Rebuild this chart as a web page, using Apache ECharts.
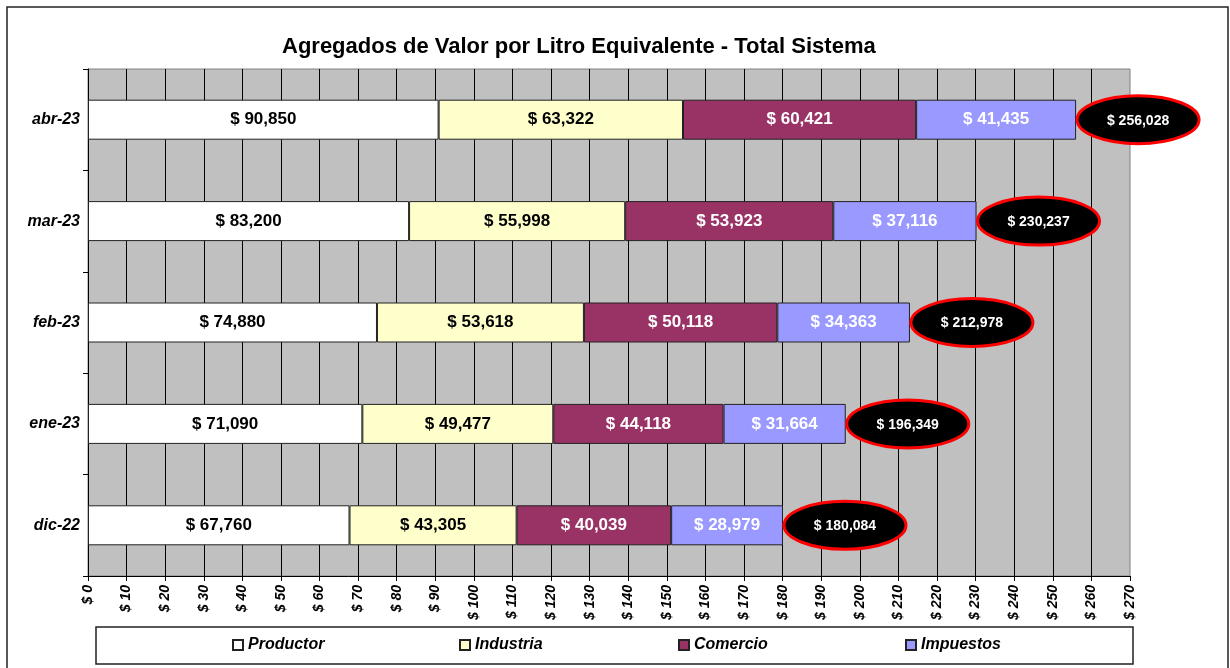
<!DOCTYPE html>
<html>
<head>
<meta charset="UTF-8">
<title>Agregados de Valor</title>
<script src="https://cdn.jsdelivr.net/npm/echarts@6/dist/echarts.min.js"></script>
<style>
  html, body { margin: 0; padding: 0; background: #fff; }
  #main { width: 1230px; height: 668px; }
</style>
</head>
<body>
<div id="main"></div>
<script type="text/javascript">
  // data, bottom to top as drawn
  var months = ['dic-22', 'ene-23', 'feb-23', 'mar-23', 'abr-23'];
  var productor = [67760, 71090, 74880, 83200, 90850];
  var industria = [43305, 49477, 53618, 55998, 63322];
  var comercio  = [40039, 44118, 50118, 53923, 60421];
  var impuestos = [28979, 31664, 34363, 37116, 41435];
  var totales   = [180084, 196349, 212978, 230237, 256028];

  var FONT = '"Liberation Sans", Arial, sans-serif';

  function money(v) {
    return '$ ' + Number(v).toLocaleString('en-US');
  }

  function barSerie(name, data, color, labelColor) {
    return {
      name: name,
      type: 'bar',
      stack: 'total',
      barWidth: 40,
      data: data,
      itemStyle: { color: color, borderColor: '#222', borderWidth: 1 },
      label: {
        show: true,
        position: 'inside',
        color: labelColor,
        fontFamily: FONT,
        fontWeight: 'bold',
        fontSize: 17,
        formatter: function (p) { return money(p.value); }
      }
    };
  }

  var totalData = totales.map(function (t, i) { return [t, i]; });

  var myChart = echarts.init(document.getElementById('main'));
  var option = {
    animation: false,
    backgroundColor: '#fff',
    title: {
      text: 'Agregados de Valor por Litro Equivalente - Total Sistema',
      left: 277,
      top: 31,
      textStyle: { fontFamily: FONT, fontWeight: 'bold', fontSize: 22, color: '#000' }
    },
    graphic: [
      { type: 'rect', z: -10, shape: { x: 7, y: 7, width: 1221, height: 720 },
        style: { fill: 'none', stroke: '#222', lineWidth: 1.5 } },
      { type: 'rect', z: -10, shape: { x: 96, y: 627, width: 1037, height: 37 },
        style: { fill: '#fff', stroke: '#222', lineWidth: 1.5 } }
    ],
    legend: [
      { data: ['Productor'], left: 232 },
      { data: ['Industria'], left: 459 },
      { data: ['Comercio'], left: 678 },
      { data: ['Impuestos'], left: 905 }
    ].map(function (l) {
      l.top = 637;
      l.padding = 0;
      l.itemWidth = 10;
      l.itemHeight = 10;
      l.icon = 'rect';
      l.textStyle = { fontFamily: FONT, fontWeight: 'bold', fontStyle: 'italic', fontSize: 16, color: '#000' };
      return l;
    }),
    grid: {
      left: 88,
      right: 100,
      top: 69,
      bottom: 92,
      show: true,
      backgroundColor: '#C0C0C0',
      borderColor: '#808080',
      borderWidth: 1
    },
    xAxis: {
      type: 'value',
      min: 0,
      max: 270000,
      interval: 10000,
      axisLine: { show: true, lineStyle: { color: '#000', width: 1 } },
      axisTick: { show: true, length: 5, lineStyle: { color: '#000' } },
      splitLine: { show: true, showMinLine: false, showMaxLine: false, lineStyle: { color: '#000', width: 1 } },
      axisLabel: {
        rotate: 90,
        margin: 9,
        color: '#000',
        fontFamily: FONT,
        fontWeight: 'bold',
        fontStyle: 'italic',
        fontSize: 14,
        formatter: function (v) { return '$ ' + (v / 1000); }
      }
    },
    yAxis: {
      type: 'category',
      data: months,
      axisLine: { show: true, lineStyle: { color: '#000', width: 1 } },
      axisTick: { show: true, length: 5, alignWithLabel: false, lineStyle: { color: '#000' } },
      splitLine: { show: false },
      axisLabel: {
        margin: 8,
        color: '#000',
        fontFamily: FONT,
        fontWeight: 'bold',
        fontStyle: 'italic',
        fontSize: 16
      }
    },
    series: [
      barSerie('Productor', productor, '#FFFFFF', '#000'),
      barSerie('Industria', industria, '#FFFFCC', '#000'),
      barSerie('Comercio', comercio, '#993366', '#fff'),
      barSerie('Impuestos', impuestos, '#9999FF', '#fff'),
      {
        name: 'Total',
        type: 'custom',
        data: totalData,
        z: 10,
        renderItem: function (params, api) {
          var p = api.coord([api.value(0), api.value(1)]);
          var cx = p[0] + 62;
          return {
            type: 'group',
            children: [
              { type: 'ellipse', shape: { cx: cx, cy: p[1], rx: 61, ry: 24 },
                style: { fill: '#000', stroke: '#FF0000', lineWidth: 3 } },
              { type: 'text',
                style: { text: money(api.value(0)), x: cx, y: p[1] + 1, align: 'center', verticalAlign: 'middle',
                         fill: '#fff', font: 'bold 14px ' + FONT } }
            ]
          };
        }
      }
    ]
  };
  myChart.setOption(option);
</script>
</body>
</html>
